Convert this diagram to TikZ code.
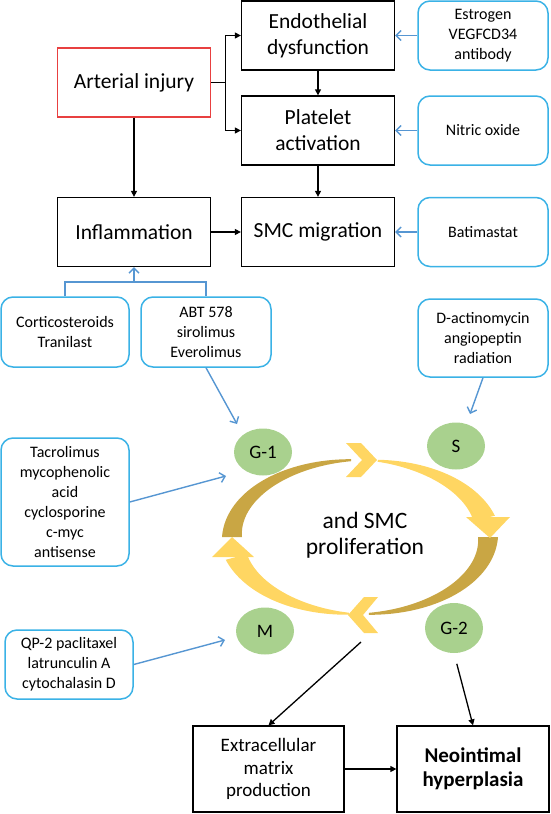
\documentclass[tikz,border=0pt]{standalone}
\usepackage{fontspec}
\setmainfont{Carlito}
\usepackage{tikz}
\usetikzlibrary{arrows.meta,shapes.geometric}
\definecolor{boxblue}{RGB}{58,178,230}
\definecolor{arrblue}{RGB}{86,150,210}
\definecolor{injred}{RGB}{232,64,64}
\definecolor{phasegreen}{RGB}{169,209,142}
\definecolor{ringlight}{RGB}{255,214,98}
\definecolor{ringdark}{RGB}{201,166,68}
\tikzstyle{stagebox} = [draw=black, fill=white, line width=1.3pt, rectangle, minimum width=153pt, minimum height=69pt, align=center, inner sep=2pt, font=\fontsize{21.5}{25.8}\selectfont]
\tikzstyle{drugbox} = [draw=boxblue, fill=white, line width=1.5pt, rectangle, rounded corners=12pt, minimum width=130pt, minimum height=69pt, align=center, inner sep=2pt, font=\fontsize{16}{20}\selectfont]
\tikzstyle{phase} = [fill=phasegreen, ellipse, minimum width=58pt, minimum height=47pt, inner sep=0pt, font=\fontsize{19}{22}\selectfont]
\tikzstyle{flow} = [black, line width=1.3pt, -{Triangle[length=6pt,width=6pt]}]
\tikzstyle{block} = [arrblue, line width=1.4pt, -{Straight Barb[length=5pt,width=10pt]}]

\begin{document}
\begin{tikzpicture}[x=1pt, y=-1pt]
\useasboundingbox (0,0) rectangle (550,814);

% cell cycle ring
\fill[ringdark] plot[domain=0:-86, samples=40] ({360+(128+1+9*(86+\x)/86)*cos(\x)}, {537-(77+1+9*(86+\x)/86)*sin(\x)})
  -- plot[domain=-86:0, samples=40] ({360+(128-1-9*(86+\x)/86)*cos(\x)}, {537-(77-1-9*(86+\x)/86)*sin(\x)}) -- cycle;
\fill[ringdark] plot[domain=180:94, samples=40] ({360+(128+1+9*(\x-94)/86)*cos(\x)}, {537-(77+1+9*(\x-94)/86)*sin(\x)})
  -- plot[domain=94:180, samples=40] ({360+(128-1-9*(\x-94)/86)*cos(\x)}, {537-(77-1-9*(\x-94)/86)*sin(\x)}) -- cycle;
\fill[ringlight] plot[domain=82:14, samples=40] ({360+(128+1+10*(82-\x)/68)*cos(\x)}, {537-(77+1+10*(82-\x)/68)*sin(\x)})
  -- plot[domain=14:82, samples=40] ({360+(128-1-10*(82-\x)/68)*cos(\x)}, {537-(77-1-10*(82-\x)/68)*sin(\x)}) -- cycle;
\fill[ringlight] plot[domain=-95:-165, samples=40] ({360+(128+1+10*(-95-\x)/70)*cos(\x)}, {537-(77+1+10*(-95-\x)/70)*sin(\x)})
  -- plot[domain=-165:-95, samples=40] ({360+(128-1-10*(-95-\x)/70)*cos(\x)}, {537-(77-1-10*(-95-\x)/70)*sin(\x)}) -- cycle;
\fill[ringlight] (466,517) -- (510,517) -- (490,538) -- cycle;
\fill[ringlight] (212,557) -- (254,557) -- (232,537) -- cycle;
\fill[ringlight] (346,443) -- (361,443) -- (377,460) -- (361,477) -- (346,477) -- (362,460) -- cycle;
\fill[ringlight] (378,597) -- (364,597) -- (348,615) -- (364,633) -- (378,633) -- (363,615) -- cycle;
\node[font=\fontsize{23.5}{26}\selectfont, align=center] (prolif) at (365,535) {and SMC\\proliferation};

% stages
\node[stagebox] (endo) at (318,35.5) {Endothelial\\dysfunction};
\node[stagebox, draw=injred] (art) at (134,82.5) {Arterial injury};
\node[stagebox] (plat) at (318,130.5) {Platelet\\activation};
\node[stagebox] (infl) at (134,232) {Inflammation};
\node[stagebox] (smc) at (318,232) {SMC migration};
\node[stagebox, minimum width=151pt, minimum height=86pt, font=\fontsize{19}{22.8}\selectfont] (extra) at (268.5,769) {Extracellular\\matrix\\production};
\node[stagebox, minimum width=152pt, minimum height=86pt, font=\fontsize{21}{24}\selectfont\bfseries] (neo) at (473,769) {Neointimal\\hyperplasia};

% drugs
\node[drugbox] (estro) at (483,35.5) {Estrogen\\VEGFCD34\\antibody};
\node[drugbox] (nitric) at (483,130.5) {Nitric oxide};
\node[drugbox] (bati) at (483,232) {Batimastat};
\node[drugbox, minimum width=128pt, minimum height=70pt] (cort) at (65,332) {Corticosteroids\\Tranilast};
\node[drugbox, minimum height=70pt] (abt) at (206,332) {ABT 578\\sirolimus\\Everolimus};
\node[drugbox, minimum height=78pt] (dact) at (483,338) {D-actinomycin\\angiopeptin\\radiation};
\node[drugbox, minimum width=128pt, minimum height=128pt] (tacro) at (65,502) {Tacrolimus\\mycophenolic\\acid\\cyclosporine\\c-myc\\antisense};
\node[drugbox, minimum width=128pt] (qp) at (69,664.5) {QP-2 paclitaxel\\latrunculin A\\cytochalasin D};

% phases
\node[phase] (g1) at (263,452) {G-1};
\node[phase] (s) at (456,446) {S};
\node[phase] (m) at (265,631) {M};
\node[phase, minimum height=50pt] (g2) at (454,628) {G-2};

% black flow
\draw[black, line width=1.3pt] (art.east) -- ++(14,0) coordinate (split);
\draw[flow] (split) |- (endo.west);
\draw[flow] (split) |- (plat.west);
\draw[flow] (endo) -- (plat);
\draw[flow] (plat) -- (smc);
\draw[flow] (art) -- (infl);
\draw[flow] (infl) -- (smc);
\coordinate (ringout) at (361,642);
\draw[flow] (ringout) -- (extra.north);
\draw[flow, shorten <=11pt] (g2.south) -- (neo.north);
\draw[flow] (extra) -- (neo);

% blue inhibition
\draw[block] (estro) -- (endo);
\draw[block] (nitric) -- (plat);
\draw[block] (bati) -- (smc);
\coordinate (brk) at (134,282);
\draw[arrblue, line width=1.4pt] (cort.north) |- (brk) -| (abt.north);
\draw[block] (brk) -- (infl.south);
\coordinate (g1in) at (237,424);
\coordinate (sin) at (470,414);
\coordinate (tacin) at (226,476);
\coordinate (min) at (225,640);
\draw[block] (abt.south) -- (g1in);
\draw[block] (dact.south) -- (sin);
\draw[block] (tacro.east) -- (tacin);
\draw[block] (qp.east) -- (min);
\end{tikzpicture}
\end{document}
